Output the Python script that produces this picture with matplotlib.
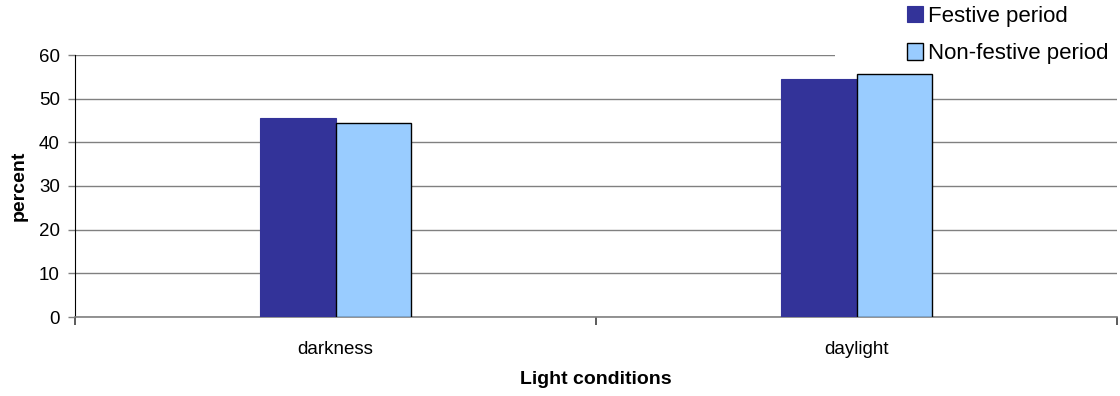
import matplotlib.pyplot as plt
import numpy as np
from matplotlib.patches import Rectangle

categories = ["darkness", "daylight"]
festive = [45.5, 54.5]
non_festive = [44.4, 55.6]
series_names = ["Festive period", "Non-festive period"]
y_ticks = [0, 10, 20, 30, 40, 50, 60]

plt.rcParams['font.family'] = ['Liberation Sans', 'DejaVu Sans']


def plot_chart():
    fig = plt.figure(figsize=(11.2, 3.96), dpi=100)
    ax = fig.add_axes([75 / 1120, 1 - 317 / 396, 1042 / 1120, 262 / 396])

    x = np.arange(len(categories))
    w = 0.144
    ax.bar(x - w / 2, festive, w, color='#333399', edgecolor='#333399',
           linewidth=0.8, label=series_names[0], zorder=3)
    ax.bar(x + w / 2, non_festive, w, color='#99CCFF', edgecolor='black',
           linewidth=1.0, label=series_names[1], zorder=3)

    ax.set_xlim(-0.5, len(categories) - 0.5)
    ax.set_ylim(0, 60)
    ax.set_yticks(y_ticks)
    ax.yaxis.grid(True, color='#808080', linewidth=1.0, zorder=0)

    # category labels in the middle, tick marks on the boundaries
    ax.set_xticks(x)
    ax.set_xticklabels(categories, fontsize=13.5)
    ax.tick_params(axis='x', which='major', length=0, pad=17)
    ax.set_xticks(np.arange(-0.5, len(categories)), minor=True)
    ax.tick_params(axis='x', which='minor', length=6, width=1.2, color='#404040')
    ax.tick_params(axis='y', length=5, width=1, color='#808080', labelsize=13.5, pad=6)

    for s in ['top', 'right']:
        ax.spines[s].set_visible(False)
    ax.spines['left'].set_color('black')
    ax.spines['bottom'].set_color('#808080')
    ax.spines['bottom'].set_linewidth(1.2)

    ax.set_ylabel('percent', fontsize=14, fontweight='bold', labelpad=8)
    ax.set_xlabel('Light conditions', fontsize=14, fontweight='bold', labelpad=10)

    # white legend area over the top gridline
    fig.patches.append(Rectangle((835 / 1120, 1 - 66 / 396), 1, 1,
                                 transform=fig.transFigure, facecolor='white',
                                 edgecolor='none', zorder=5))

    leg = fig.legend(loc='upper left', bbox_to_anchor=(901 / 1120, 1.0),
                     frameon=False, fontsize=16, handlelength=0.75,
                     handleheight=0.75, handletextpad=0.2, labelspacing=0.75,
                     borderaxespad=0.0, borderpad=0.25)
    leg.set_zorder(6)

    plt.savefig("out.png", dpi=100)


if __name__ == '__main__':
    plot_chart()
